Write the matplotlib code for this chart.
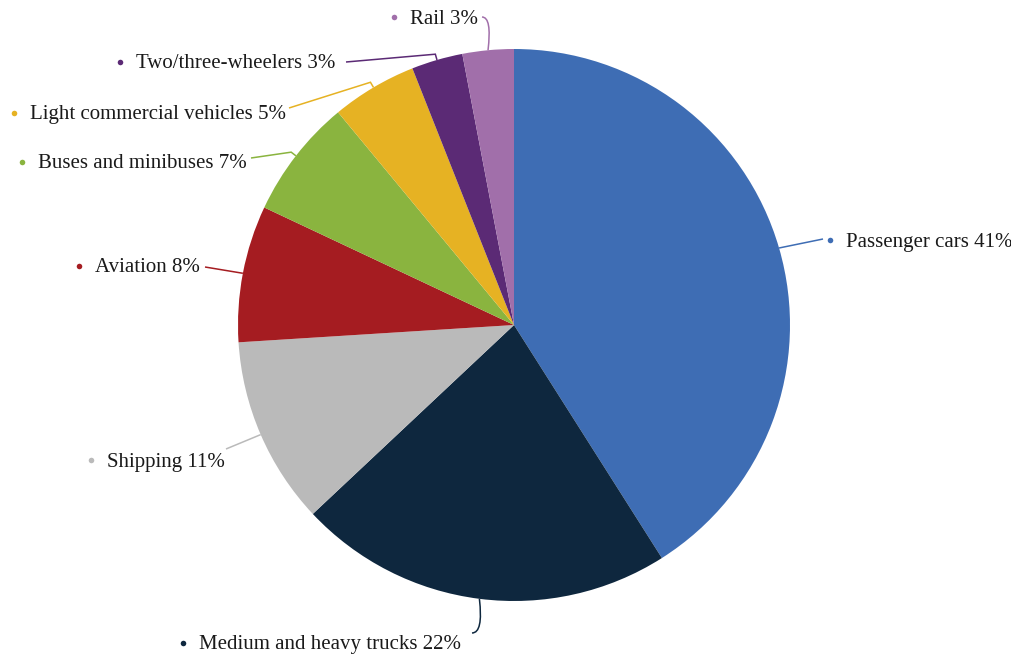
import matplotlib.pyplot as plt
import numpy as np
from matplotlib.path import Path
import matplotlib.patches as mpatches

# transport CO2 shares, clockwise from 12 o'clock
labels = ['Passenger cars', 'Medium and heavy trucks', 'Shipping', 'Aviation',
          'Buses and minibuses', 'Light commercial vehicles', 'Two/three-wheelers', 'Rail']
shares = [41, 22, 11, 8, 7, 5, 3, 3]
colors = ['#3e6db4', '#0e273e', '#bababa', '#a51c21', '#8ab43f', '#e6b223', '#5b2a75', '#a16faa']

W, H = 1012, 656
cx, cy, R = 514, H - 325, 276

# where each label text starts (x, y in px from top)
label_pos = [(846, 240), (199, 643), (107, 460), (95, 266),
             (38, 162), (30, 113), (136, 62), (410, 17)]
# leader line ends (px from top)
line_end = [(823, 239), (472, 633), (226, 449), (205, 267),
            (251, 158), (289, 108), (346, 62), (482, 17)]

plt.rcParams['font.family'] = ['Liberation Serif', 'DejaVu Serif']
fig = plt.figure(figsize=(W / 100, H / 100), dpi=100)
ax = fig.add_axes([0, 0, 1, 1])

wedges, _ = ax.pie(shares, colors=colors, startangle=90, counterclock=False,
                   center=(cx, cy), radius=R, frame=True,
                   wedgeprops=dict(linewidth=0))
ax.set_xlim(0, W)
ax.set_ylim(0, H)
ax.set_aspect('auto')
ax.axis('off')

for i, w in enumerate(wedges):
    ang = np.deg2rad((w.theta1 + w.theta2) / 2)
    ex, ey = cx + R * np.cos(ang), cy + R * np.sin(ang)
    kx, ky = cx + (R + 6) * np.cos(ang), cy + (R + 6) * np.sin(ang)
    lx, ly = line_end[i][0], H - line_end[i][1]
    if labels[i] in ('Medium and heavy trucks', 'Rail'):
        path = Path([(ex, ey), (ex + 4, ly), (lx, ly)], [Path.MOVETO, Path.CURVE3, Path.CURVE3])
    elif labels[i] in ('Passenger cars', 'Shipping', 'Aviation'):
        path = Path([(ex, ey), (lx, ly)], [Path.MOVETO, Path.LINETO])
    else:
        path = Path([(ex, ey), (kx, ky), (lx, ly)], [Path.MOVETO, Path.LINETO, Path.LINETO])
    ax.add_patch(mpatches.PathPatch(path, fill=False, edgecolor=colors[i], lw=1.1))

    tx, ty = label_pos[i]
    ax.plot(tx - 16, H - ty, 'o', ms=4, color=colors[i], mec='none')
    ax.text(tx, H - ty - 2, f'{labels[i]} {shares[i]}%', fontsize=15, color='#1a1a1a',
            ha='left', va='center')

fig.savefig('out.png', dpi=100)
